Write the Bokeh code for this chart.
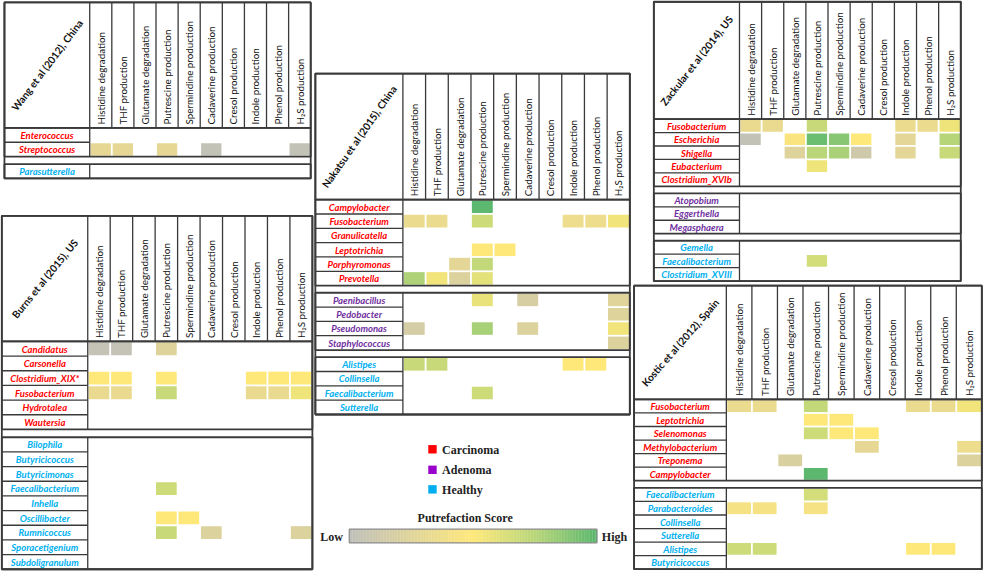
import math
import numpy as np
from bokeh.plotting import figure
from bokeh.models import Range1d, ColumnDataSource, LinearColorMapper
from bokeh.core.properties import value
from bokeh.embed import file_html
from bokeh.resources import INLINE

# ---------------- data ----------------
columns = ["Histidine degradation", "THF production", "Glutamate degradation",
           "Putrescine production", "Spermindine production", "Cadaverine production",
           "Cresol production", "Indole production", "Phenol production", "H\u2082S production"]

status_names = ["Carcinoma", "Adenoma", "Healthy"]
status_colors = ["#FF0000", "#9900CC", "#00AEEF"]
label_colors = {"Carcinoma": "#FF0000", "Adenoma": "#7030A0", "Healthy": "#00B0F0"}

_ = None

wang_title = "Wang et al (2012), China"
wang_genera = ["Enterococcus", "Streptococcus", "Parasutterella"]
wang_status = ["Carcinoma", "Carcinoma", "Healthy"]
wang_scores = [
    [_, _, _, _, _, _, _, _, _, _],
    [.30, .30, _, .30, _, .03, _, _, _, .03],
    [_, _, _, _, _, _, _, _, _, _],
]

burns_title = "Burns et al (2015), US"
burns_genera = ["Candidatus", "Carsonella", "Clostridium_XIX*", "Fusobacterium", "Hydrotalea",
                "Wautersia", "Bilophila", "Butyricicoccus", "Butyricimonas", "Faecalibacterium",
                "Inhella", "Oscillibacter", "Rumnicoccus", "Sporacetigenium", "Subdoligranulum"]
burns_status = ["Carcinoma"] * 6 + ["Healthy"] * 9
burns_scores = [
    [.04, .04, _, .24, _, _, _, _, _, _],
    [_, _, _, _, _, _, _, _, _, _],
    [.50, .50, _, .50, _, _, _, .50, .50, .50],
    [.33, .33, _, .70, _, _, _, .33, .33, .56],
    [_, _, _, _, _, _, _, _, _, _],
    [_, _, _, _, _, _, _, _, _, _],
    [_, _, _, _, _, _, _, _, _, _],
    [_, _, _, _, _, _, _, _, _, _],
    [_, _, _, _, _, _, _, _, _, _],
    [_, _, _, .68, _, _, _, _, _, _],
    [_, _, _, _, _, _, _, _, _, _],
    [_, _, _, .50, .50, _, _, _, _, _],
    [_, _, _, .70, _, .22, _, _, _, .22],
    [_, _, _, _, _, _, _, _, _, _],
    [_, _, _, _, _, _, _, _, _, _],
]

nakatsu_title = "Nakatsu et al (2015), China"
nakatsu_genera = ["Campylobacter", "Fusobacterium", "Granulicatella", "Leptotrichia", "Porphyromonas",
                  "Prevotella", "Paenibacillus", "Pedobacter", "Pseudomonas", "Staphylococcus",
                  "Alistipes", "Collinsella", "Faecalibacterium", "Sutterella"]
nakatsu_status = ["Carcinoma"] * 6 + ["Adenoma"] * 4 + ["Healthy"] * 4
nakatsu_scores = [
    [_, _, _, 1.0, _, _, _, _, _, _],
    [.34, .34, _, .68, _, _, _, .36, .36, .55],
    [_, _, _, _, _, _, _, _, _, _],
    [_, _, _, .50, .50, _, _, _, _, _],
    [_, _, .28, .72, _, _, _, _, _, _],
    [.78, .55, .22, .60, _, _, _, _, _, _],
    [_, _, _, .58, _, .18, _, _, _, .25],
    [_, _, _, _, _, _, _, _, _, .24],
    [.16, _, _, .80, _, .22, _, _, _, .55],
    [_, _, _, _, _, _, _, _, _, .22],
    [.70, .70, _, _, _, _, _, .50, .50, _],
    [_, _, _, _, _, _, _, _, _, _],
    [_, _, _, .68, _, _, _, _, _, _],
    [_, _, _, _, _, _, _, _, _, _],
]

zackular_title = "Zackular et al (2014), US"
zackular_genera = ["Fusobacterium", "Escherichia", "Shigella", "Eubacterium", "Clostridium_XVIb",
                   "Atopobium", "Eggerthella", "Megasphaera", "Gemella", "Faecalibacterium",
                   "Clostridium_XVIII"]
zackular_status = ["Carcinoma"] * 5 + ["Adenoma"] * 3 + ["Healthy"] * 3
zackular_scores = [
    [.33, .33, _, .70, _, _, _, .34, .34, .56],
    [.03, _, .45, .96, .88, .50, _, .28, _, .76],
    [_, _, .24, .75, .79, .12, _, .28, _, .70],
    [_, _, _, .56, _, _, _, _, _, _],
    [_, _, _, _, _, _, _, _, _, _],
    [_, _, _, _, _, _, _, _, _, _],
    [_, _, _, _, _, _, _, _, _, _],
    [_, _, _, _, _, _, _, _, _, _],
    [_, _, _, _, _, _, _, _, _, _],
    [_, _, _, .66, _, _, _, _, _, _],
    [_, _, _, _, _, _, _, _, _, _],
]

kostic_title = "Kostic et al (2012), Spain"
kostic_genera = ["Fusobacterium", "Leptotrichia", "Selenomonas", "Methylobacterium", "Treponema",
                 "Campylobacter", "Faecalibacterium", "Parabacteroides", "Collinsella", "Sutterella",
                 "Alistipes", "Butyricicoccus"]
kostic_status = ["Carcinoma"] * 6 + ["Healthy"] * 6
kostic_scores = [
    [.34, .34, _, .72, _, _, _, .34, .34, .55],
    [_, _, _, .50, .50, _, _, _, _, _],
    [_, _, _, .68, .50, .50, _, _, _, _],
    [_, _, _, _, _, .30, _, _, _, .36],
    [_, _, .20, _, _, _, _, _, _, .22],
    [_, _, _, 1.0, _, _, _, _, _, _],
    [_, _, _, .66, _, _, _, _, _, _],
    [.42, .42, _, .42, _, _, _, _, _, _],
    [_, _, _, _, _, _, _, _, _, _],
    [_, _, _, _, _, _, _, _, _, _],
    [.68, .68, _, _, _, _, _, .50, .50, _],
    [_, _, _, _, _, _, _, _, _, _],
]

score_title = "Putrefaction Score"
score_low, score_high = "Low", "High"

# ---------------- layout (positions, not data) ----------------
# x0, x_label_divider, x1, y_top, y_header_bottom, row_height, gap, title_angle
layout = {
    "wang":     (6.0, 92.3, 316.0, 4.0, 132.3, 14.7, 7.6, 53),
    "burns":    (3.3, 90.3, 317.7, 222.3, 350.7, 15.0, 8.0, 51),
    "nakatsu":  (320.7, 409.3, 639.0, 76.7, 205.7, 14.65, 7.3, 55),
    "zackular": (663.3, 750.0, 974.0, 3.3, 123.3, 13.75, 7.2, 52),
    "kostic":   (643.3, 736.7, 995.3, 293.7, 410.0, 13.85, 7.4, 49),
}
studies = [
    ("wang", wang_title, wang_genera, wang_status, wang_scores),
    ("burns", burns_title, burns_genera, burns_status, burns_scores),
    ("nakatsu", nakatsu_title, nakatsu_genera, nakatsu_status, nakatsu_scores),
    ("zackular", zackular_title, zackular_genera, zackular_status, zackular_scores),
    ("kostic", kostic_title, kostic_genera, kostic_status, kostic_scores),
]

# palette: gray -> yellow -> green
stops = [(0.0, (192, 192, 186)), (0.5, (255, 232, 122)), (0.75, (186, 214, 121)), (1.0, (92, 184, 110))]
def interp(t):
    for (t0, c0), (t1, c1) in zip(stops[:-1], stops[1:]):
        if t <= t1:
            f = (t - t0) / (t1 - t0)
            return "#%02x%02x%02x" % tuple(int(round(a + (b - a) * f)) for a, b in zip(c0, c1))
    return "#%02x%02x%02x" % stops[-1][1]
palette = [interp(i / 255) for i in range(256)]
mapper = LinearColorMapper(palette=palette, low=0, high=1)

p = figure(width=984, height=571, x_range=Range1d(2, 998), y_range=Range1d(586, 2),
           output_backend="svg", toolbar_location=None, min_border=0)
p.axis.visible = False
p.grid.visible = False
p.outline_line_color = None
p.background_fill_color = "white"

LC = "#3a3a3a"
FONT = value("Lato")

box = dict(left=[], right=[], top=[], bottom=[])
seg = dict(x0=[], y0=[], x1=[], y1=[])
seg_thin = dict(x0=[], y0=[], x1=[], y1=[])
cells = dict(left=[], right=[], top=[], bottom=[], score=[])
rowlab = dict(x=[], y=[], text=[], color=[])
collab = dict(x=[], y=[], text=[])
titles = dict(x=[], y=[], text=[], angle=[])

for key, title, genera, status, scores in studies:
    x0, xl, x1, y0, yh, rh, gap, ang = layout[key]
    cw = (x1 - xl) / len(columns)
    # header
    box["left"].append(x0); box["right"].append(x1); box["top"].append(y0); box["bottom"].append(yh)
    for j in range(len(columns)):
        xb = xl + j * cw
        seg["x0"].append(xb); seg["x1"].append(xb); seg["y0"].append(y0); seg["y1"].append(yh)
        collab["x"].append(xl + (j + 0.5) * cw); collab["y"].append(yh - 3.5); collab["text"].append(columns[j])
    titles["x"].append((x0 + xl) / 2); titles["y"].append((y0 + yh) / 2)
    titles["text"].append(title); titles["angle"].append(math.radians(ang))
    # groups
    y = yh
    i = 0
    n = len(genera)
    while i < n:
        st = status[i]
        gtop = y
        while i < n and status[i] == st:
            ytop, ybot = y, y + rh
            rowlab["x"].append((x0 + xl) / 2); rowlab["y"].append((ytop + ybot) / 2 + 0.3)
            rowlab["text"].append(genera[i]); rowlab["color"].append(label_colors[st])
            for j, s in enumerate(scores[i]):
                if s is not None:
                    cells["left"].append(xl + j * cw + 0.9); cells["right"].append(xl + (j + 1) * cw - 0.9)
                    cells["top"].append(ytop + 0.9); cells["bottom"].append(ybot - 0.9)
                    cells["score"].append(s)
            y = ybot
            i += 1
            if i < n and status[i] == st:
                seg_thin["x0"].append(x0); seg_thin["x1"].append(xl)
                seg_thin["y0"].append(y); seg_thin["y1"].append(y)
        gbot = y
        box["left"].append(x0); box["right"].append(x1); box["top"].append(gtop); box["bottom"].append(gbot)
        seg["x0"].append(xl); seg["x1"].append(xl); seg["y0"].append(gtop); seg["y1"].append(gbot)
        if i < n:
            y += gap
    # outer frame
    box["left"].append(x0); box["right"].append(x1); box["top"].append(y0); box["bottom"].append(y)

p.quad(source=ColumnDataSource(cells), left="left", right="right", top="top", bottom="bottom",
       fill_color={"field": "score", "transform": mapper}, line_color=None)
p.segment(source=ColumnDataSource(seg_thin), x0="x0", y0="y0", x1="x1", y1="y1", line_color=LC, line_width=1.3)
p.segment(source=ColumnDataSource(seg), x0="x0", y0="y0", x1="x1", y1="y1", line_color=LC, line_width=1.3)
p.quad(source=ColumnDataSource(box), left="left", right="right", top="top", bottom="bottom",
       fill_color=None, line_color=LC, line_width=1.8)

p.text(source=ColumnDataSource(collab), x="x", y="y", text="text", angle=math.pi / 2,
       text_align="left", text_baseline="middle", text_font=FONT, text_font_size="9.8px",
       text_color="#111111")
p.text(source=ColumnDataSource(titles), x="x", y="y", text="text", angle="angle",
       text_align="center", text_baseline="middle", text_font=FONT, text_font_style="bold",
       text_font_size="10.2px", text_color="#111111")
p.text(source=ColumnDataSource(rowlab), x="x", y="y", text="text", text_color="color",
       text_align="center", text_baseline="middle", text_font=FONT, text_font_style="bold italic",
       text_font_size="9.5px")

# legend
SERIF = value("Liberation Serif")
leg_y = [461.0, 482.0, 502.0]
p.quad(left=[435.0] * 3, right=[443.5] * 3, top=[yy - 4.3 for yy in leg_y], bottom=[yy + 4.3 for yy in leg_y],
       fill_color=status_colors, line_color=None)
p.text(x=[449.0] * 3, y=[yy + 0.5 for yy in leg_y], text=status_names, text_align="left", text_baseline="middle",
       text_font=SERIF, text_font_style="bold", text_font_size="12px", text_color="#222222")

# gradient bar
gx0, gx1, gy0, gy1 = 355.0, 605.7, 542.7, 556.7
grad = np.linspace(0, 1, 160)
gw = (gx1 - gx0) / len(grad)
gsrc = ColumnDataSource(dict(left=gx0 + np.arange(len(grad)) * gw,
                             right=gx0 + (np.arange(len(grad)) + 1) * gw + 0.3,
                             top=[gy0] * len(grad), bottom=[gy1] * len(grad), score=grad))
p.quad(source=gsrc, left="left", right="right", top="top", bottom="bottom",
       fill_color={"field": "score", "transform": mapper}, line_color=None)
p.quad(left=[gx0], right=[gx1], top=[gy0], bottom=[gy1], fill_color=None, line_color="#8a8a8a", line_width=1.2)
p.text(x=[(gx0 + gx1) / 2 - 8], y=[531.0], text=[score_title], text_align="center", text_baseline="middle",
       text_font=SERIF, text_font_style="bold", text_font_size="12px", text_color="#222222")
p.text(x=[gx0 - 6.5, gx1 + 5], y=[550.5, 550.5], text=[score_low, score_high], text_align=["right", "left"],
       text_baseline="middle", text_font=SERIF, text_font_style="bold", text_font_size="12px",
       text_color="#222222")

open("out.html", "w").write(file_html(p, INLINE))
